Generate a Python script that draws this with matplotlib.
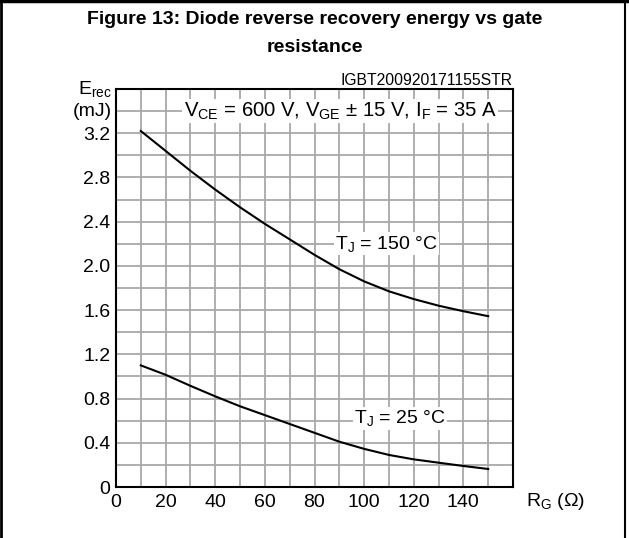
import matplotlib
matplotlib.use("Agg")
import matplotlib.pyplot as plt
import numpy as np
from matplotlib.lines import Line2D

plt.rcParams['font.family'] = ['Liberation Sans', 'DejaVu Sans']
plt.rcParams['mathtext.fontset'] = 'custom'
plt.rcParams['mathtext.rm'] = 'Liberation Sans'
plt.rcParams['mathtext.it'] = 'Liberation Sans'

# === data ===
rg = [10, 20, 30, 40, 50, 60, 70, 80, 90, 100, 110, 120, 130, 140, 150]
erec_150 = [3.22, 3.04, 2.86, 2.69, 2.53, 2.38, 2.24, 2.10, 1.97, 1.86,
            1.77, 1.70, 1.64, 1.59, 1.545]
erec_25 = [1.10, 1.015, 0.915, 0.82, 0.73, 0.65, 0.57, 0.49, 0.41, 0.345,
           0.29, 0.25, 0.22, 0.19, 0.163]

x_labels = [0, 20, 40, 60, 80, 100, 120, 140]
y_labels = [0, 0.4, 0.8, 1.2, 1.6, 2.0, 2.4, 2.8, 3.2]

W, H = 629, 538
fig = plt.figure(figsize=(W / 100, H / 100), dpi=100)
ax = fig.add_axes([116 / W, 1 - 487 / H, (513 - 116) / W, (487 - 89) / H])

ax.set_xlim(0, 160)
ax.set_ylim(0, 3.6)
ax.set_xticks(x_labels)
ax.set_xticklabels([str(v) for v in x_labels])
ax.set_xticks(np.arange(10, 160, 20), minor=True)
ax.set_yticks(y_labels)
ax.set_yticklabels(["0" if v == 0 else f"{v:.1f}" for v in y_labels])
ax.set_yticks(np.arange(0.2, 3.6, 0.4), minor=True)
ax.tick_params(which='both', length=0, labelsize=14, colors='black')
ax.tick_params(axis='x', pad=5)
ax.tick_params(axis='y', pad=4)
ax.grid(True, which='both', color='#a8a8a8', linewidth=1.3)
ax.set_axisbelow(True)
for s in ax.spines.values():
    s.set_linewidth(1.5)
    s.set_color('black')

ax.plot(rg, erec_150, color='black', linewidth=1.5)
ax.plot(rg, erec_25, color='black', linewidth=1.5)

box = dict(facecolor='white', edgecolor='none', pad=1)
ax.text(109, 2.2, r"T$_{\mathrm{J}}$ = 150 °C", fontsize=14, ha='center', va='center', bbox=box)
ax.text(114.5, 0.62, r"T$_{\mathrm{J}}$ = 25 °C", fontsize=14, ha='center', va='center', bbox=box)
ax.text(90.3, 3.4, r"V$_{\mathrm{CE}}$ = 600 V, V$_{\mathrm{GE}}$ ± 15 V, I$_{\mathrm{F}}$ = 35 A",
        fontsize=14.6, ha='center', va='center', bbox=box)

# axis unit labels sit where the last tick would be
ax.text(-1.8, 3.6, r"E$_{\mathrm{rec}}$", fontsize=14, ha='right', va='center')
ax.text(-1.8, 3.4, "(mJ)", fontsize=14, ha='right', va='center')
ax.text(165.2, -0.04, r"R$_{\mathrm{G}}$ (Ω)", fontsize=14, ha='left', va='top', clip_on=False)
ax.text(160, 3.68, "IGBT200920171155STR", fontsize=11.3, ha='right', va='center')

fig.text(0.5, 1 - 19.5 / H, "Figure 13: Diode reverse recovery energy vs gate",
         fontsize=14, fontweight='bold', ha='center', va='center')
fig.text(0.5, 1 - 48 / H, "resistance", fontsize=14, fontweight='bold', ha='center', va='center')

# frame around the figure (top, left, right)
fig.add_artist(Line2D([1 / W, 1 / W], [0, 1], color='black', linewidth=2, transform=fig.transFigure))
fig.add_artist(Line2D([624.5 / W, 624.5 / W], [0, 1], color='black', linewidth=1.5, transform=fig.transFigure))
fig.add_artist(Line2D([0, 1], [1 - 1 / H, 1 - 1 / H], color='black', linewidth=2.5, transform=fig.transFigure))

fig.savefig("out.png", dpi=100)
